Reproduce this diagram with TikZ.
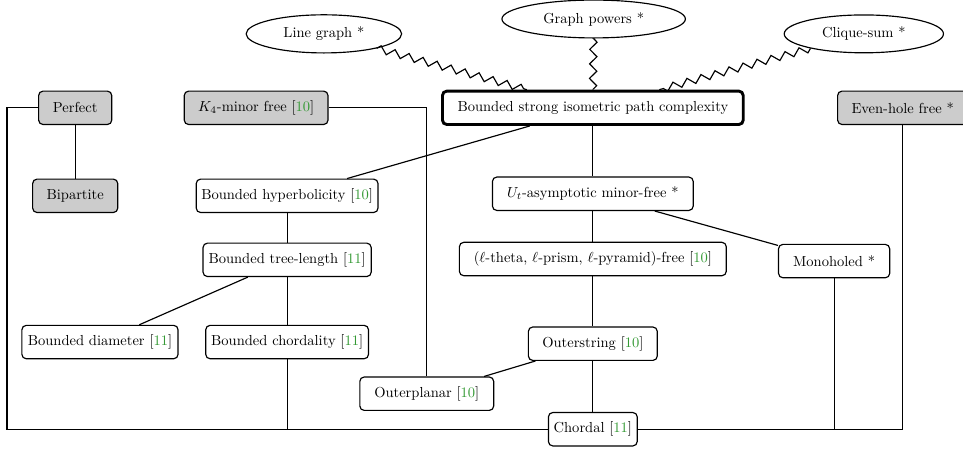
\documentclass[tikz,border=0pt]{standalone}
\usetikzlibrary{shapes.geometric,decorations.pathmorphing}
\definecolor{citegreen}{rgb}{0.2,0.6,0.2}
\newcommand{\refnum}[1]{[\textcolor{citegreen}{#1}]}

\begin{document}
\begin{tikzpicture}[
    box/.style={draw,thick,rounded corners=3pt,fill=white,inner xsep=3pt,minimum height=23pt},
    greybox/.style={box,fill=gray!40},
    mainbox/.style={box,line width=2pt},
    bubble/.style={draw,thick,ellipse,inner xsep=10pt,inner ysep=4.5pt},
    zz/.style={thick,decorate,decoration={zigzag,segment length=10pt,amplitude=2.5pt}},
    every path/.style={thick}]
    \useasboundingbox (0,0) rectangle (23.31,10.89);
    \node[bubble] (linegraph) at (7.84,10.07) {Line graph *};
    \node[bubble] (powers) at (14.37,10.43) {Graph powers *};
    \node[bubble] (cliquesum) at (20.91,10.07) {Clique-sum *};
    \node[greybox,minimum width=1.77cm] (perfect) at (1.82,8.28) {Perfect};
    \node[greybox,minimum width=3.48cm] (kfour) at (6.20,8.28) {$K_4$-minor free \refnum{10}};
    \node[mainbox,minimum width=7.28cm] (bsipc) at (14.35,8.28) {Bounded strong isometric path complexity};
    \node[greybox,minimum width=3.15cm] (evenhole) at (21.85,8.28) {Even-hole free *};
    \node[greybox,minimum width=2.06cm] (bipartite) at (1.82,6.15) {Bipartite};
    \node[box,minimum width=4.40cm] (hyperb) at (6.95,6.15) {Bounded hyperbolicity \refnum{10}};
    \node[box,minimum width=4.86cm] (utasym) at (14.35,6.20) {$U_t$-asymptotic minor-free *};
    \node[box,minimum width=4.07cm] (treelen) at (6.95,4.60) {Bounded tree-length \refnum{11}};
    \node[box,minimum width=6.46cm] (theta) at (14.35,4.62) {($\ell$-theta, $\ell$-prism, $\ell$-pyramid)-free \refnum{10}};
    \node[box,minimum width=2.69cm] (monoholed) at (20.19,4.57) {Monoholed *};
    \node[box,minimum width=3.78cm] (diameter) at (2.42,2.61) {Bounded diameter \refnum{11}};
    \node[box,minimum width=3.94cm] (chordality) at (6.95,2.61) {Bounded chordality \refnum{11}};
    \node[box,minimum width=3.12cm] (outerstring) at (14.35,2.57) {Outerstring \refnum{10}};
    \node[box,minimum width=3.24cm] (outerplanar) at (10.33,1.36) {Outerplanar \refnum{10}};
    \node[box,minimum width=2.15cm] (chordal) at (14.35,0.50) {Chordal \refnum{11}};
    \coordinate (corner) at (0.17,0.50);

    % zigzag links to the main class
    \draw[zz] (linegraph) -- (bsipc);
    \draw[zz] (powers) -- (bsipc);
    \draw[zz] (cliquesum) -- (bsipc);

    % inclusions
    \draw (perfect) -- (bipartite);
    \draw (bsipc) -- (hyperb);
    \draw (bsipc) -- (utasym);
    \draw (hyperb) -- (treelen);
    \draw (treelen) -- (diameter);
    \draw (treelen) -- (chordality);
    \draw (utasym) -- (theta);
    \draw (utasym) -- (monoholed);
    \draw (theta) -- (outerstring);
    \draw (outerstring) -- (outerplanar);
    \draw (outerstring) -- (chordal);
    \draw (kfour) -| (outerplanar);
    \draw (perfect.west) -| (corner) -- (chordal.west);
    \draw (evenhole) |- (chordal.east);
    \draw (chordality) -- (chordality |- chordal);
    \draw (monoholed) -- (monoholed |- chordal);
\end{tikzpicture}
\end{document}
